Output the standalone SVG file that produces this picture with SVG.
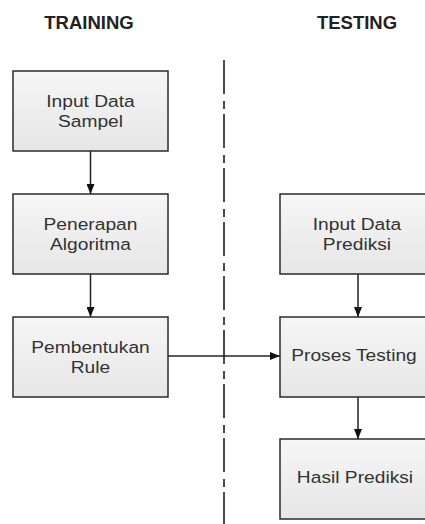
<svg xmlns="http://www.w3.org/2000/svg" width="425" height="524" viewBox="0 0 425 524">
<style>
.box{fill:url(#g);stroke:#2b2b2b;stroke-width:1.5}
.t{font-family:"Liberation Sans",Arial,sans-serif;font-size:17px;fill:#333;text-anchor:middle}
.h{font-family:"Liberation Sans",Arial,sans-serif;font-size:18.5px;font-weight:bold;fill:#222;text-anchor:middle}
.c{stroke:#222;stroke-width:1.5;fill:none}
</style>
<defs>
<linearGradient id="g" x1="0" y1="0" x2="0" y2="1">
<stop offset="0" stop-color="#f6f6f6"/>
<stop offset="1" stop-color="#e6e6e6"/>
</linearGradient>
<marker id="a" markerWidth="10" markerHeight="8" refX="10" refY="4" orient="auto" markerUnits="userSpaceOnUse">
<path d="M0,0 L10,4 L0,8 Z" fill="#111"/>
</marker>
</defs>
<rect width="425" height="524" fill="#fff"/>
<g id="titles">
<text class="h" x="89" y="29">TRAINING</text>
<text class="h" x="357" y="29">TESTING</text>
</g>
<g id="divider">
<line x1="224" y1="60" x2="224" y2="524" stroke="#111" stroke-width="1.5" stroke-dasharray="34 7 8 5"/>
</g>
<g id="connectors">
<line class="c" x1="90.5" y1="151" x2="90.5" y2="194" marker-end="url(#a)"/>
<line class="c" x1="90.5" y1="274" x2="90.5" y2="317" marker-end="url(#a)"/>
<line class="c" x1="168" y1="356" x2="280" y2="356" marker-end="url(#a)"/>
<line class="c" x1="358" y1="274" x2="358" y2="317" marker-end="url(#a)"/>
<line class="c" x1="358" y1="397" x2="358" y2="439" marker-end="url(#a)"/>
</g>
<g id="input-data-sampel">
<rect class="box" x="13" y="71" width="155" height="80"/>
<text class="t" transform="translate(90.5 107) scale(1.13 1)">Input Data</text>
<text class="t" transform="translate(90.5 127) scale(1.13 1)">Sampel</text>
</g>
<g id="penerapan-algoritma">
<rect class="box" x="13" y="194" width="155" height="80"/>
<text class="t" transform="translate(90.5 230) scale(1.13 1)">Penerapan</text>
<text class="t" transform="translate(90.5 250) scale(1.13 1)">Algoritma</text>
</g>
<g id="pembentukan-rule">
<rect class="box" x="13" y="317" width="155" height="80"/>
<text class="t" transform="translate(90.5 353) scale(1.13 1)">Pembentukan</text>
<text class="t" transform="translate(90.5 373) scale(1.13 1)">Rule</text>
</g>
<g id="input-data-prediksi">
<rect class="box" x="280" y="194" width="160" height="80"/>
<text class="t" transform="translate(357 230) scale(1.13 1)">Input Data</text>
<text class="t" transform="translate(357 250) scale(1.13 1)">Prediksi</text>
</g>
<g id="proses-testing">
<rect class="box" x="280" y="317" width="160" height="80"/>
<text class="t" transform="translate(354 361) scale(1.13 1)">Proses Testing</text>
</g>
<g id="hasil-prediksi">
<rect class="box" x="280" y="439" width="160" height="80"/>
<text class="t" transform="translate(355 483) scale(1.13 1)">Hasil Prediksi</text>
</g>
</svg>
